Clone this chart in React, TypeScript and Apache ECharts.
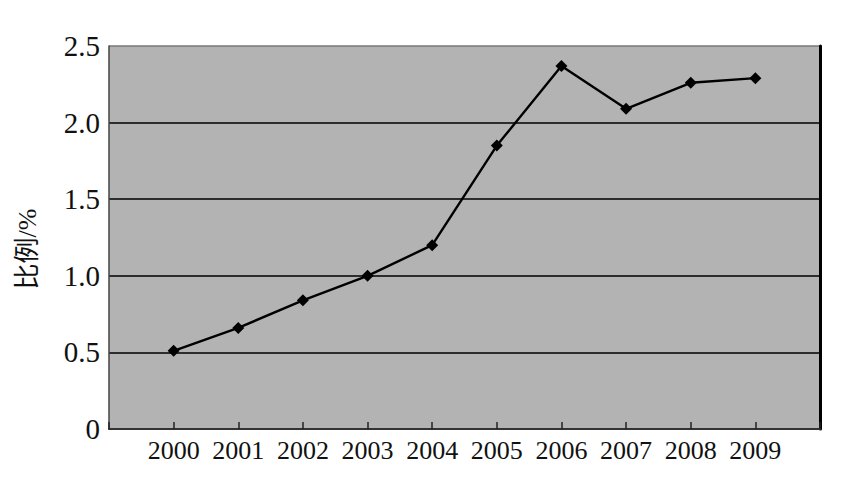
import React, { useEffect, useRef } from "react";
import * as echarts from "echarts";

const years = [2000, 2001, 2002, 2003, 2004, 2005, 2006, 2007, 2008, 2009];
const ratios = [0.51, 0.66, 0.84, 1.0, 1.2, 1.85, 2.37, 2.09, 2.26, 2.29];
const yTicks = [0, 0.5, 1.0, 1.5, 2.0, 2.5];
const yAxisName = "比例/%";

const FONT = "'Liberation Serif', 'Times New Roman', serif";

export default function App() {
  const ref = useRef<HTMLDivElement>(null);
  useEffect(() => {
    if (!ref.current) return;
    const chart = echarts.init(ref.current, null, { renderer: "svg" });
    const data = years.map((y, i) => [y, ratios[i]]);
    chart.setOption({
      animation: false,
      backgroundColor: "#ffffff",
      grid: {
        left: 109,
        right: 28,
        top: 46,
        bottom: 52,
        show: true,
        backgroundColor: "#b3b3b3",
        borderWidth: 0,
      },
      xAxis: {
        type: "value",
        min: years[0] - 1,
        max: years[years.length - 1] + 1,
        interval: 1,
        splitLine: { show: false },
        axisLine: { show: true, onZero: false, lineStyle: { color: "#333", width: 2 } },
        axisTick: { show: true, inside: true, length: 7, lineStyle: { color: "#222", width: 1.5 } },
        axisLabel: {
          color: "#111",
          fontFamily: FONT,
          fontSize: 26,
          margin: 8,
          formatter: (v: number) => (years.includes(v) ? String(v) : ""),
        },
      },
      yAxis: [
        {
          type: "value",
          min: yTicks[0],
          max: yTicks[yTicks.length - 1],
          interval: 0.5,
          axisLine: { show: true, lineStyle: { color: "#444", width: 1.5 } },
          axisTick: { show: false },
          splitLine: {
            show: true,
            lineStyle: {
              color: ["#333", "#000", "#000", "#000", "#000", "#777"],
              width: 1.6,
            },
          },
          axisLabel: {
            color: "#111",
            fontFamily: FONT,
            fontSize: 29,
            margin: 9,
            formatter: (v: number) => (v === 0 ? "0" : v.toFixed(1)),
          },
        },
        {
          type: "value",
          position: "right",
          min: yTicks[0],
          max: yTicks[yTicks.length - 1],
          interval: 0.5,
          axisLine: { show: true, lineStyle: { color: "#000", width: 3 } },
          axisTick: { show: false },
          splitLine: { show: false },
          axisLabel: { show: false },
        },
      ],
      graphic: [
        {
          type: "text",
          x: 27,
          y: 249,
          rotation: Math.PI / 2,
          style: {
            text: yAxisName,
            fontFamily: "'Liberation Serif', 'Noto Sans CJK SC', serif",
            fontSize: 26,
            fill: "#111",
            align: "center",
            verticalAlign: "middle",
          },
        },
      ],
      series: [
        {
          type: "line",
          data,
          yAxisIndex: 0,
          symbol: "diamond",
          symbolSize: 12,
          lineStyle: { color: "#000", width: 2.4 },
          itemStyle: { color: "#000" },
        },
      ],
    });
    return () => chart.dispose();
  }, []);
  return <div ref={ref} style={{ width: 848, height: 481, position: "absolute", left: 0, top: 0 }} />;
}
